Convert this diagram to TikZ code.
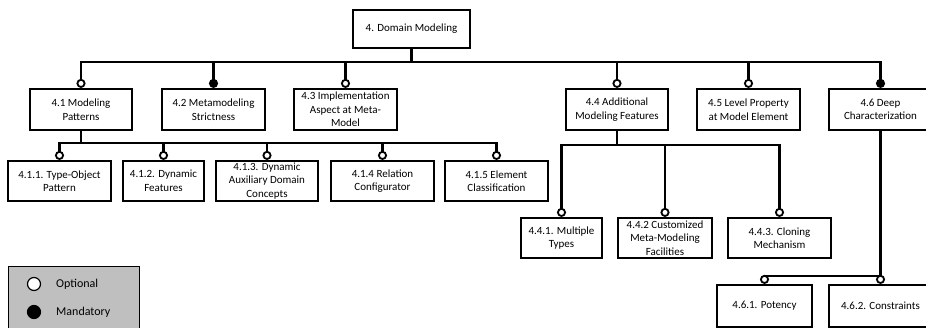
\documentclass[tikz,border=0pt]{standalone}
\usepackage{fontspec}
\setmainfont{Carlito}
\usetikzlibrary{arrows.meta}
\tikzset{
  feat/.style={draw, line width=2.2pt, inner sep=0pt, align=center,
    minimum height=41pt, font=\fontsize{11}{13.5}\selectfont},
  conn/.style={line width=2.2pt},
  opt/.style={conn, -{Circle[open, fill=white, length=9pt, width=9pt, line width=1.8pt]}},
  man/.style={conn, -{Circle[length=9pt, width=9pt]}},
  legtext/.style={anchor=west, inner sep=0pt, font=\fontsize{12}{14}\selectfont}
}
\begin{document}
\begin{tikzpicture}[x=1pt, y=-1pt]
\useasboundingbox (0,0) rectangle (926,327);
% root
\node[feat, minimum width=117pt, minimum height=38pt] (root) at (411.5,29) {4. Domain Modeling};
% level 1
\node[feat, minimum width=102pt] (n41) at (81,109.5) {4.1 Modeling\\Patterns};
\node[feat, minimum width=103pt] (n42) at (213.5,109.5) {4.2 Metamodeling\\Strictness};
\node[feat, minimum width=103pt] (n43) at (345.5,109.5) {4.3 Implementation\\Aspect at Meta-\\Model};
\node[feat, minimum width=102pt] (n44) at (617,109.5) {4.4 Additional\\Modeling Features};
\node[feat, minimum width=103pt] (n45) at (748.5,109.5) {4.5 Level Property\\at Model Element};
\node[feat, minimum width=103pt] (n46) at (880.5,109.5) {4.6 Deep\\Characterization};
% 4.1 children
\node[feat, minimum width=103pt, minimum height=40pt] (n411) at (59.5,181) {4.1.1. Type-Object\\Pattern};
\node[feat, minimum width=81pt, minimum height=40pt] (n412) at (163.5,181) {4.1.2. Dynamic\\Features};
\node[feat, minimum width=102pt, minimum height=40pt] (n413) at (267,181) {4.1.3. Dynamic\\Auxiliary Domain\\Concepts};
\node[feat, minimum width=103pt, minimum height=40pt] (n414) at (382.5,181) {4.1.4 Relation\\Configurator};
\node[feat, minimum width=103pt, minimum height=40pt] (n415) at (496.5,181) {4.1.5 Element\\Classification};
% 4.4 children
\node[feat, minimum width=81pt, minimum height=40pt] (n441) at (561.5,238) {4.4.1. Multiple\\Types};
\node[feat, minimum width=94pt, minimum height=40pt] (n442) at (665,238) {4.4.2 Customized\\Meta-Modeling\\Facilities};
\node[feat, minimum width=103pt, minimum height=40pt] (n443) at (779.5,238) {4.4.3. Cloning\\Mechanism};
% 4.6 children
\node[feat, minimum width=95pt, minimum height=42pt] (n461) at (764.5,306) {4.6.1. Potency};
\node[feat, minimum width=103pt, minimum height=42pt] (n462) at (880.5,306) {4.6.2. Constraints};
% connectors level 1
\draw[opt] (root.south) -- ++(0,13) -| (n41.north);
\draw[man] (root.south) -- ++(0,13) -| (n42.north);
\draw[opt] (root.south) -- ++(0,13) -| (n43.north);
\draw[opt] (root.south) -- ++(0,13) -| (n44.north);
\draw[opt] (root.south) -- ++(0,13) -| (n45.north);
\draw[man] (root.south) -- ++(0,13) -| (n46.north);
% connectors 4.1
\foreach \c in {n411,n412,n413,n414,n415}
  \draw[opt] (n41.south) -- ++(0,12) -| (\c.north);
% connectors 4.4
\foreach \c in {n441,n442,n443}
  \draw[opt] (n44.south) -- ++(0,14) -| (\c.north);
% connectors 4.6
\foreach \c in {n461,n462}
  \draw[opt] (n46.south) -- ++(0,145) -| (\c.north);
% legend
\node[draw, line width=0.8pt, fill=black!25, minimum width=131pt, minimum height=70pt, inner sep=0pt] (legend) at (73.5,301) {};
\node[circle, draw, line width=1.2pt, fill=white, minimum size=13pt, inner sep=0pt] (lopt) at (34,284) {};
\node[circle, draw, line width=1.2pt, fill=black, minimum size=13pt, inner sep=0pt] (lman) at (34,312) {};
\node[legtext] (loptt) at (56,284) {Optional};
\node[legtext] (lmant) at (56,312) {Mandatory};
\end{tikzpicture}
\end{document}
